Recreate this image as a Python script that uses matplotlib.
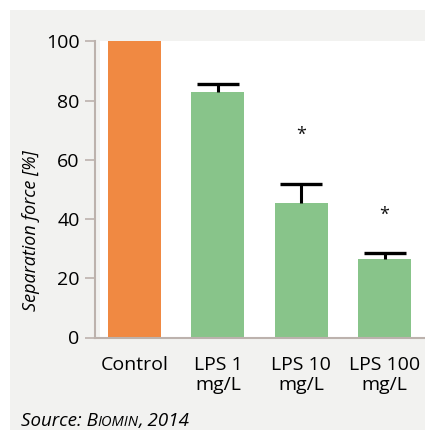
import matplotlib
matplotlib.use("Agg")
import matplotlib.pyplot as plt
from matplotlib.patches import Rectangle
from matplotlib.offsetbox import TextArea, HPacker, AnchoredOffsetbox

# data
categories = ["Control", "LPS 1\nmg/L", "LPS 10\nmg/L", "LPS 100\nmg/L"]
values = [100, 83, 45.5, 26.5]
errors = [0, 2.5, 6.5, 2.1]
significant = [False, False, True, True]
star_y = [None, None, 68.5, 41.5]
y_ticks = [0, 20, 40, 60, 80, 100]

BAR_COLORS = ["#f08942", "#88c48a", "#88c48a", "#88c48a"]
PANEL = "#f2f2f0"
SPINE = "#bcb2ad"

plt.rcParams["font.family"] = ["Open Sans", "DejaVu Sans"]

W, H = 425, 430
fig = plt.figure(figsize=(W / 100, H / 100), dpi=100)
fig.patch.set_facecolor("white")
# grey panel behind everything
fig.patches.append(Rectangle((10 / W, 0), (W - 10) / W, (H - 10) / H,
                             transform=fig.transFigure, facecolor=PANEL,
                             edgecolor="none", zorder=-5))

left, right, top, bottom = 95, 425, 41.5, 337.5
ax = fig.add_axes([left / W, 1 - bottom / H, (right - left) / W, (bottom - top) / H])
ax.set_facecolor("none")
# white plotting area starts a few pixels right of the y axis
ax.add_patch(Rectangle((5 / (right - left), 0), 1, 1, transform=ax.transAxes,
                       facecolor="white", edgecolor="none", zorder=0))

x = list(range(len(categories)))
ax.bar(x, values, width=0.636, color=BAR_COLORS, zorder=2)
_, caps, _ = ax.errorbar(x[1:], values[1:], yerr=[[0] * 3, errors[1:]], fmt="none",
                         ecolor="black", elinewidth=2.2, capsize=15, capthick=2.4,
                         zorder=3)
caps[0].set_visible(False)  # only the upper cap is shown
for xi, sig, sy in zip(x, significant, star_y):
    if sig:
        ax.text(xi, sy, "*", ha="center", va="center", fontsize=13, color="#111111")

ax.set_xlim(-0.474, 3.486)
ax.set_ylim(0, 100)
ax.set_yticks(y_ticks)
ax.set_yticklabels([str(t) for t in y_ticks], fontsize=14)
ax.set_xticks(x)
ax.set_xticklabels(categories, fontsize=14, linespacing=1.15)
ax.tick_params(axis="y", length=7, width=1.2, color=SPINE, pad=4)
ax.tick_params(axis="x", length=0, pad=13)
for s in ("top", "right"):
    ax.spines[s].set_visible(False)
for s in ("left", "bottom"):
    ax.spines[s].set_color(SPINE)
    ax.spines[s].set_linewidth(1.5)

ax.set_ylabel("Separation force [%]", fontsize=13, style="italic")
ax.yaxis.set_label_coords(-0.167, 0.36)

# source line with small caps for the company name
parts = [
    TextArea("Source: B", textprops=dict(fontsize=13.5, style="italic")),
    TextArea("IOMIN", textprops=dict(fontsize=10.5, style="italic")),
    TextArea(", 2014", textprops=dict(fontsize=13.5, style="italic")),
]
box = HPacker(children=parts, align="baseline", pad=0, sep=0)
anch = AnchoredOffsetbox(loc="lower left", child=box, frameon=False,
                         bbox_to_anchor=(21 / W, 0), bbox_transform=fig.transFigure,
                         borderpad=0, pad=0)
fig.add_artist(anch)

fig.savefig("out.png", dpi=100, facecolor=fig.get_facecolor())
